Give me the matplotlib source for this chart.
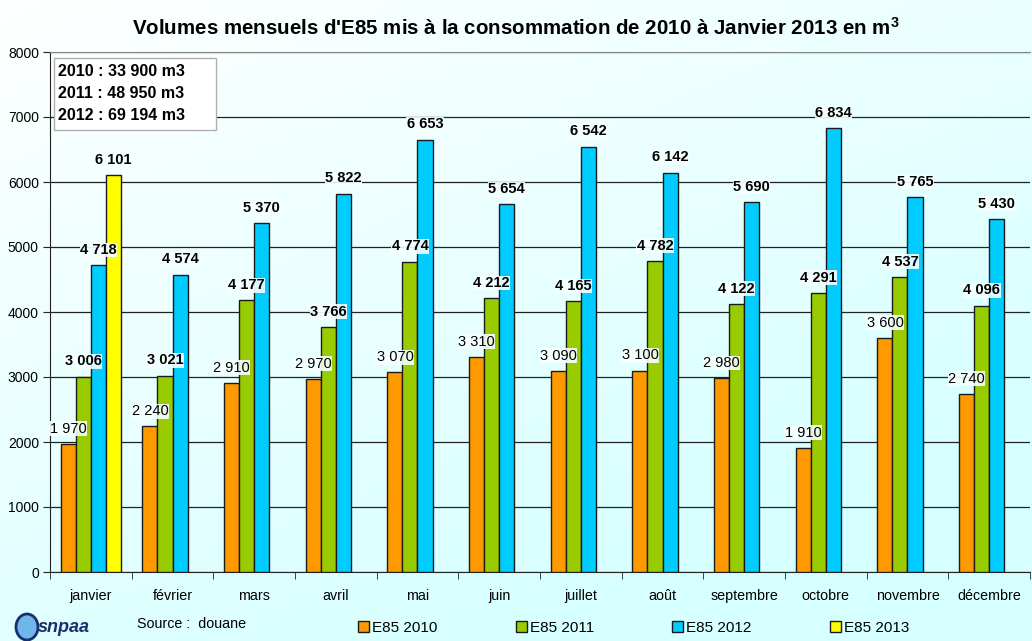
import matplotlib
matplotlib.use("Agg")
import matplotlib.pyplot as plt
import numpy as np

plt.rcParams['font.family'] = ['Liberation Sans', 'DejaVu Sans']
plt.rcParams['mathtext.fontset'] = 'custom'
plt.rcParams['mathtext.bf'] = 'Liberation Sans:bold'
plt.rcParams['mathtext.rm'] = 'Liberation Sans'

months = ["janvier", "février", "mars", "avril", "mai", "juin", "juillet",
          "août", "septembre", "octobre", "novembre", "décembre"]
e85_2010 = [1970, 2240, 2910, 2970, 3070, 3310, 3090, 3100, 2980, 1910, 3600, 2740]
e85_2011 = [3006, 3021, 4177, 3766, 4774, 4212, 4165, 4782, 4122, 4291, 4537, 4096]
e85_2012 = [4718, 4574, 5370, 5822, 6653, 5654, 6542, 6142, 5690, 6834, 5765, 5430]
e85_2013 = [6101]
series_names = ["E85 2010", "E85 2011", "E85 2012", "E85 2013"]
colors = ["#FF9900", "#99CC00", "#00CCFF", "#FFFF00"]
totals = ["2010 : 33 900 m3", "2011 : 48 950 m3", "2012 : 69 194 m3"]

def fmt(v):
    return f"{v:,}".replace(",", " ")

W, H = 1032, 641
fig = plt.figure(figsize=(W / 100, H / 100), dpi=100)

# background gradient
bg = fig.add_axes([0, 0, 1, 1], zorder=-10)
yy, xx = np.mgrid[0:1:200j, 0:1:300j]
t = np.clip((xx * 0.6 + yy * 0.9) / 1.2, 0, 1)
c0 = np.array([1.0, 1.0, 1.0])
c1 = np.array([0.84, 1.0, 1.0])
img = c0[None, None, :] * (1 - t[..., None]) + c1[None, None, :] * t[..., None]
bg.imshow(img, aspect='auto', extent=[0, 1, 0, 1], origin='upper')
bg.axis('off')

ax = fig.add_axes([50 / W, 1 - 572 / H, 980 / W, 520 / H])
ax.patch.set_alpha(0)

x = np.arange(len(months))
w = 0.184
offsets = [-1.5 * w, -0.5 * w, 0.5 * w, 1.5 * w]
data = [e85_2010, e85_2011, e85_2012, e85_2013]
bars = []
for k, (vals, col, name) in enumerate(zip(data, colors, series_names)):
    xs = x[:len(vals)] + offsets[k]
    b = ax.bar(xs, vals, width=w, color=col, edgecolor='#1a1a1a', linewidth=1.0,
               label=name, zorder=3)
    bars.append(b)
    for xi, v in zip(xs, vals):
        ax.text(xi, v + 235, fmt(v), ha='center', va='center', fontsize=10.5,
                fontweight='normal' if k == 0 else 'bold', color='black', zorder=5,
                bbox=dict(facecolor='#f6ffff', edgecolor='none', pad=0.3, alpha=0.9))

ax.set_xlim(-0.5, 11.5)
ax.set_ylim(0, 8000)
ax.set_yticks(np.arange(0, 8001, 1000))
ax.set_yticklabels([str(v) for v in range(0, 8001, 1000)], fontsize=10)
ax.yaxis.grid(True, color='#222222', linewidth=0.9, zorder=0)
ax.set_axisbelow(True)
ax.set_xticks(x)
ax.set_xticklabels(months, fontsize=10.3)
ax.set_xticks(np.arange(-0.5, 12.0, 1.0), minor=True)
ax.tick_params(axis='x', which='major', length=0, pad=12)
ax.tick_params(axis='x', which='minor', length=5, direction='out', color='#222222')
ax.tick_params(axis='y', length=5, direction='out', color='#222222', pad=3)
ax.spines['right'].set_visible(False)
ax.spines['top'].set_color('#888888')
ax.spines['left'].set_color('#222222')
ax.spines['bottom'].set_color('#222222')

# totals box
fig.patches.append(matplotlib.patches.Rectangle((54 / W, 1 - 130 / H), 162 / W, 72 / H,
                   transform=fig.transFigure, facecolor='white', edgecolor='#b0b0b0',
                   linewidth=1.0, zorder=6))
for i, line in enumerate(totals):
    fig.text(58 / W, 1 - (72 + 21.7 * i) / H, line, ha='left', va='center',
             fontsize=11.5, fontweight='bold', zorder=7)

fig.text(0.5, 1 - 28 / H, r"Volumes mensuels d'E85 mis à la consommation de 2010 à Janvier 2013 en m$^{\mathbf{3}}$",
         ha='center', va='center', fontsize=14.75, fontweight='bold')

fig.legend(handles=bars, labels=series_names, loc='center left',
           bbox_to_anchor=(358 / W, 1 - 628 / H), ncol=4, frameon=False, fontsize=11,
           handlelength=0.7, handleheight=0.7, handletextpad=0.2, columnspacing=5.15,
           borderaxespad=0, borderpad=0)

fig.text(137 / W, 1 - 624 / H, "Source :  douane", ha='left', va='center', fontsize=10.3)
fig.text(38 / W, 1 - 628 / H, "snpaa", ha='left', va='center', fontsize=13,
         fontweight='heavy', style='italic', color='#1b2f6e')
fig.patches.append(matplotlib.patches.Ellipse((27 / W, 1 - 627 / H), 22 / W, 26 / H,
                   transform=fig.transFigure, facecolor='#6fb7e8', edgecolor='#1b2f6e',
                   linewidth=2, zorder=5))

fig.savefig("out.png", dpi=100)
